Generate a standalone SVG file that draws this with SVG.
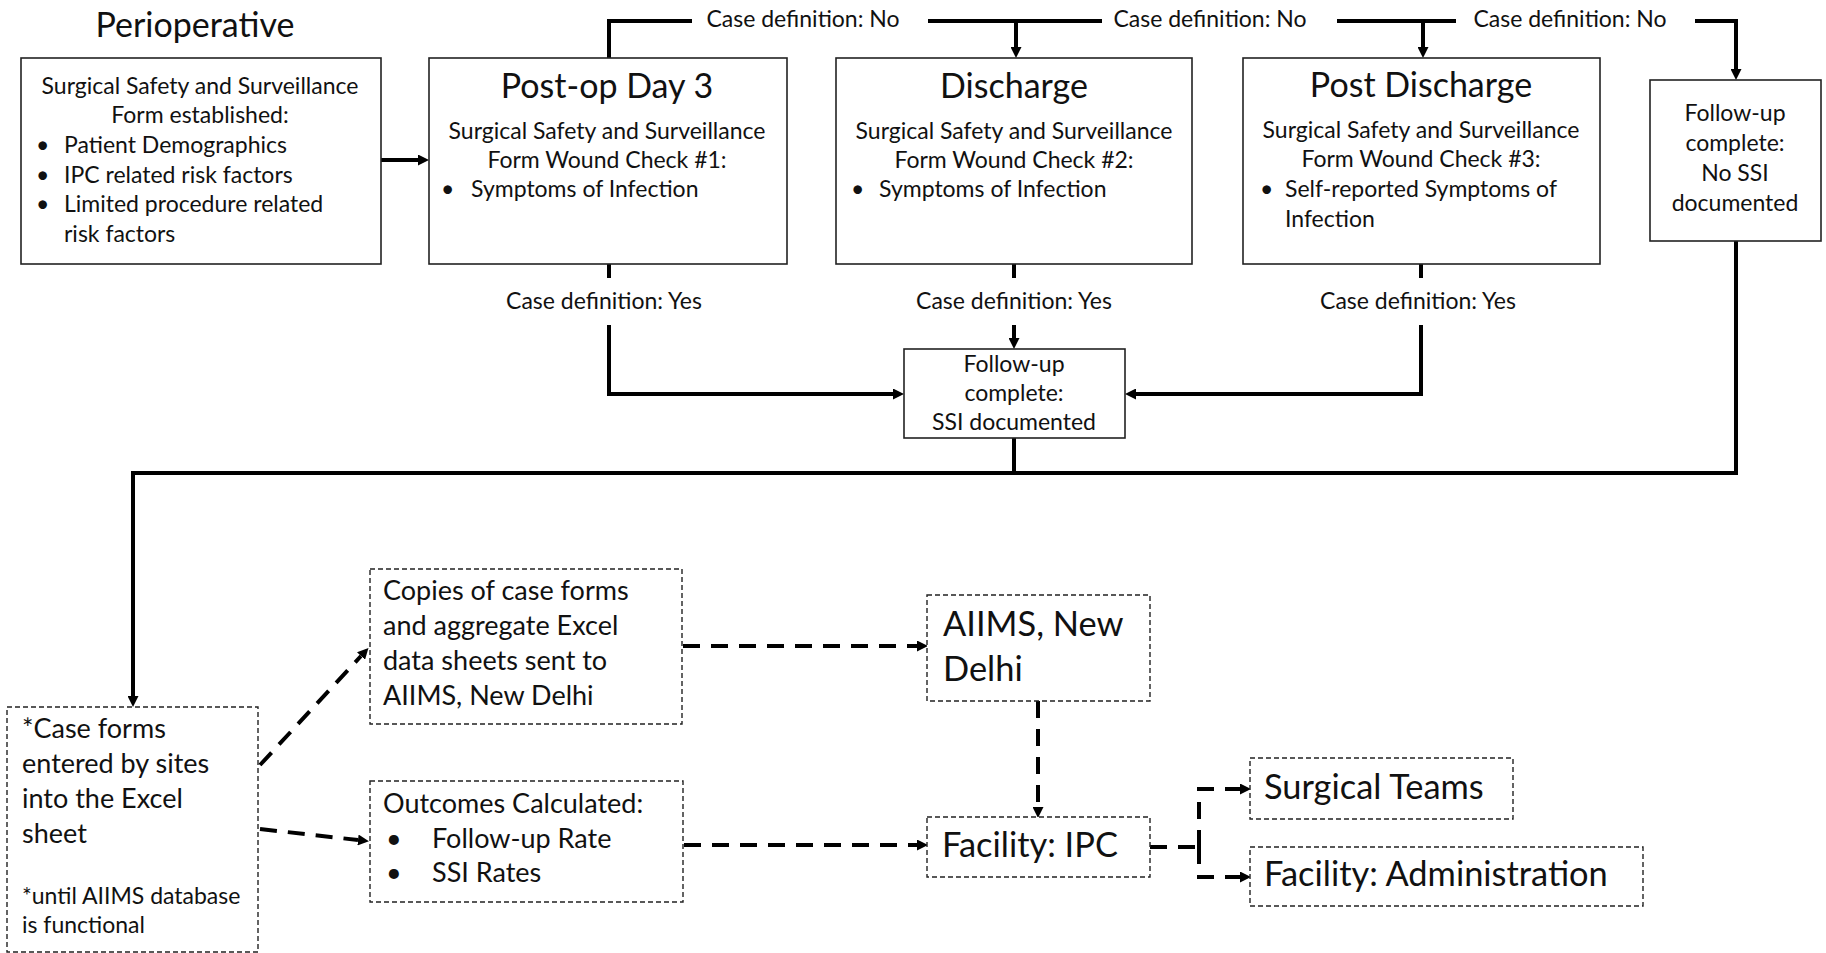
<svg xmlns="http://www.w3.org/2000/svg" width="1826" height="953" viewBox="0 0 1826 953">
<style>
text{font-family:Lato,"Open Sans","Liberation Sans",sans-serif;fill:#111}
.t{font-size:34px}
.b{font-size:23px}
.m{font-size:27px}
.L{font-size:34.4px}
.c{text-anchor:middle}
.box{fill:#fff;stroke:#222;stroke-width:1.6}
.dbox{fill:#fff;stroke:#222;stroke-width:1.4;stroke-dasharray:5 3}
.con{fill:none;stroke:#000;stroke-width:4}
.dcon{fill:none;stroke:#000;stroke-width:4;stroke-dasharray:17 11}
</style>
<defs>
<marker id="ah" viewBox="0 0 11 11" refX="0" refY="5.5" markerWidth="11" markerHeight="11" markerUnits="userSpaceOnUse" orient="auto"><path d="M0,0 L11,5.5 L0,11 z" fill="#000"/></marker>
</defs>
<rect width="1826" height="953" fill="#fff"/>

<g id="connectors">
<path class="con" d="M381,160 H418" marker-end="url(#ah)"/>
<path class="con" d="M609,58 V21 H692"/>
<path class="con" d="M928,21 H1102"/>
<path class="con" d="M1016,21 V47" marker-end="url(#ah)"/>
<path class="con" d="M1337,21 H1456"/>
<path class="con" d="M1423,21 V47" marker-end="url(#ah)"/>
<path class="con" d="M1695,21 H1736 V69" marker-end="url(#ah)"/>
<path class="con" d="M609,264 V278"/>
<path class="con" d="M609,325 V394 H893" marker-end="url(#ah)"/>
<path class="con" d="M1014,264 V278"/>
<path class="con" d="M1014,325 V338" marker-end="url(#ah)"/>
<path class="con" d="M1421,264 V278"/>
<path class="con" d="M1421,325 V394 H1136" marker-end="url(#ah)"/>
<path class="con" d="M1014,438 V473"/>
<path class="con" d="M1736,241 V473 H133 V696" marker-end="url(#ah)"/>
<path class="dcon" d="M260,765 L361,656" marker-end="url(#ah)"/>
<path class="dcon" d="M260,829 L358,840" marker-end="url(#ah)"/>
<path class="dcon" d="M683,646 H917" marker-end="url(#ah)"/>
<path class="dcon" d="M1038,701 V807" marker-end="url(#ah)"/>
<path class="dcon" d="M684,845 H917" marker-end="url(#ah)"/>
<path class="dcon" d="M1150,847 H1199"/>
<path class="dcon" d="M1199,847 V789 H1240" marker-end="url(#ah)"/>
<path class="dcon" d="M1199,847 V877 H1240" marker-end="url(#ah)"/>
<text class="b c" x="803" y="27">Case definition: No</text>
<text class="b c" x="1210" y="27">Case definition: No</text>
<text class="b c" x="1570" y="27">Case definition: No</text>
<text class="b c" x="604" y="309">Case definition: Yes</text>
<text class="b c" x="1014" y="309">Case definition: Yes</text>
<text class="b c" x="1418" y="309">Case definition: Yes</text>
</g>

<g id="perioperative">
<text class="t c" x="195" y="37">Perioperative</text>
<rect class="box" x="21" y="58" width="360" height="206"/>
<text class="b c" x="200" y="94">Surgical Safety and Surveillance</text>
<text class="b c" x="200" y="123">Form established:</text>
<text class="b" x="36" y="153">•</text><text class="b" x="64" y="153">Patient Demographics</text>
<text class="b" x="36" y="183">•</text><text class="b" x="64" y="183">IPC related risk factors</text>
<text class="b" x="36" y="212">•</text><text class="b" x="64" y="212">Limited procedure related</text>
<text class="b" x="64" y="242">risk factors</text>
</g>

<g id="postop-day3">
<rect class="box" x="429" y="58" width="358" height="206"/>
<text class="t c" x="607" y="98">Post-op Day 3</text>
<text class="b c" x="607" y="139">Surgical Safety and Surveillance</text>
<text class="b c" x="607" y="168">Form Wound Check #1:</text>
<text class="b" x="441" y="197">•</text><text class="b" x="471" y="197">Symptoms of Infection</text>
</g>

<g id="discharge">
<rect class="box" x="836" y="58" width="356" height="206"/>
<text class="t c" x="1014" y="98">Discharge</text>
<text class="b c" x="1014" y="139">Surgical Safety and Surveillance</text>
<text class="b c" x="1014" y="168">Form Wound Check #2:</text>
<text class="b" x="851" y="197">•</text><text class="b" x="879" y="197">Symptoms of Infection</text>
</g>

<g id="post-discharge">
<rect class="box" x="1243" y="58" width="357" height="206"/>
<text class="t c" x="1421" y="97">Post Discharge</text>
<text class="b c" x="1421" y="138">Surgical Safety and Surveillance</text>
<text class="b c" x="1421" y="167">Form Wound Check #3:</text>
<text class="b" x="1260" y="197">•</text><text class="b" x="1285" y="197">Self-reported Symptoms of</text>
<text class="b" x="1285" y="227">Infection</text>
</g>

<g id="no-ssi">
<rect class="box" x="1650" y="80" width="171" height="161"/>
<text class="b c" x="1735" y="121">Follow-up</text>
<text class="b c" x="1735" y="151">complete:</text>
<text class="b c" x="1735" y="181">No SSI</text>
<text class="b c" x="1735" y="211">documented</text>
</g>

<g id="ssi-documented">
<rect class="box" x="904" y="349" width="221" height="89"/>
<text class="b c" x="1014" y="372">Follow-up</text>
<text class="b c" x="1014" y="401">complete:</text>
<text class="b c" x="1014" y="430">SSI documented</text>
</g>

<g id="case-forms">
<rect class="dbox" x="7" y="707" width="251" height="245"/>
<text class="m" x="22" y="738">*Case forms</text>
<text class="m" x="22" y="773">entered by sites</text>
<text class="m" x="22" y="808">into the Excel</text>
<text class="m" x="22" y="843">sheet</text>
<text class="b" x="22" y="904">*until AIIMS database</text>
<text class="b" x="22" y="933">is functional</text>
</g>

<g id="copies">
<rect class="dbox" x="370" y="569" width="312" height="155"/>
<text class="m" x="383" y="600">Copies of case forms</text>
<text class="m" x="383" y="635">and aggregate Excel</text>
<text class="m" x="383" y="670">data sheets sent to</text>
<text class="m" x="383" y="705">AIIMS, New Delhi</text>
</g>

<g id="outcomes">
<rect class="dbox" x="370" y="781" width="313" height="121"/>
<text class="m" x="383" y="813">Outcomes Calculated:</text>
<text class="m" x="386" y="848">•</text><text class="m" x="432" y="848">Follow-up Rate</text>
<text class="m" x="386" y="882">•</text><text class="m" x="432" y="882">SSI Rates</text>
</g>

<g id="aiims">
<rect class="dbox" x="927" y="595" width="223" height="106"/>
<text class="L" x="943" y="636">AIIMS, New</text>
<text class="L" x="943" y="681">Delhi</text>
</g>

<g id="facility-ipc">
<rect class="dbox" x="927" y="817" width="223" height="60"/>
<text class="L" x="942" y="857">Facility: IPC</text>
</g>

<g id="surgical-teams">
<rect class="dbox" x="1250" y="758" width="263" height="61"/>
<text class="L" x="1264" y="799">Surgical Teams</text>
</g>

<g id="facility-admin">
<rect class="dbox" x="1250" y="847" width="393" height="59"/>
<text class="L" x="1264" y="886">Facility: Administration</text>
</g>
</svg>
